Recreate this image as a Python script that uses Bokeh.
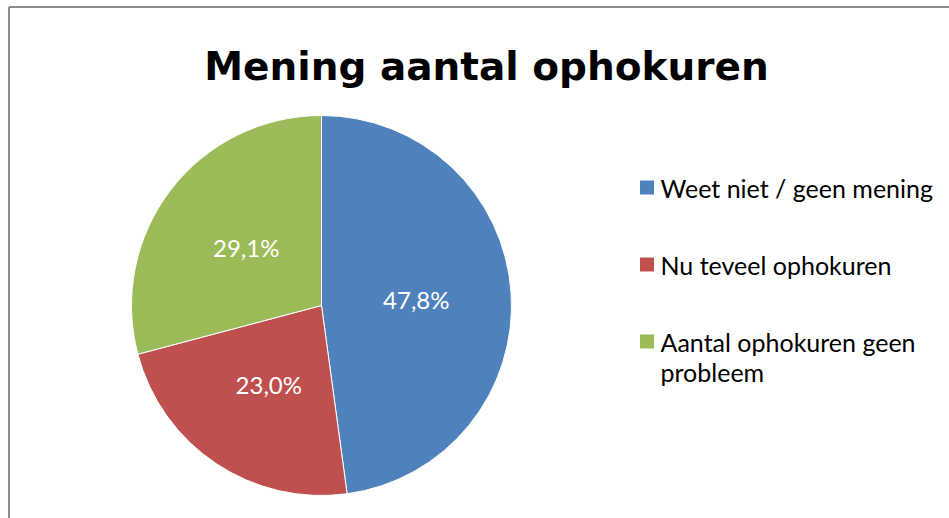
import math
import textwrap
from bokeh.plotting import figure
from bokeh.models import Range1d, ColumnDataSource
from bokeh.core.properties import value
from bokeh.embed import file_html
from bokeh.resources import INLINE

# ---- data ----
title_text = "Mening aantal ophokuren"
categories = ["Weet niet / geen mening", "Nu teveel ophokuren", "Aantal ophokuren geen probleem"]
percentages = [47.8, 23.0, 29.1]
colors = ["#4F81BD", "#C0504D", "#9BBB59"]

W, H = 949, 518
FONT = "Lato"

p = figure(width=W, height=H, output_backend="svg", toolbar_location=None,
           x_range=Range1d(0, W), y_range=Range1d(0, H), min_border=0,
           outline_line_color=None)
p.axis.visible = False
p.grid.visible = False
p.background_fill_color = "white"
p.border_fill_color = "white"

# chart border (left and top edges visible)
p.segment(x0=[8.5, 8.5], y0=[0, H - 6.5], x1=[8.5, W], y1=[H - 6.5, H - 6.5],
          line_color="#8c8c8c", line_width=2)

# ---- pie ----
cx, cy, R = 321, H - 305, 190
total = sum(percentages)
starts, ends, mids = [], [], []
cum = 0.0
for v in percentages:
    a0 = math.pi / 2 - 2 * math.pi * cum / total
    cum += v
    a1 = math.pi / 2 - 2 * math.pi * cum / total
    starts.append(a0)
    ends.append(a1)
    mids.append((a0 + a1) / 2)

src = ColumnDataSource(dict(start=starts, end=ends, color=colors, cat=categories,
                            x=[cx] * 3, y=[cy] * 3))
p.wedge(x="x", y="y", radius=R, start_angle="start", end_angle="end",
        direction="clock", fill_color="color", line_color="white", line_width=1,
        source=src)

lr = 0.5 * R
lab = ColumnDataSource(dict(
    x=[cx + lr * math.cos(m) for m in mids],
    y=[cy + lr * math.sin(m) for m in mids],
    t=[f"{v:.1f}".replace(".", ",") + "%" for v in percentages]))
p.text(x="x", y="y", text="t", source=lab, text_color="white",
       text_font=value(FONT), text_font_size="24px",
       text_align="center", text_baseline="middle")

# ---- title ----
p.text(x=[486], y=[H - 66], text=[title_text], text_font=value("DejaVu Sans"),
       text_font_style="bold", text_font_size="39px", text_color="black",
       text_align="center", text_baseline="alphabetic")

# ---- legend ----
lx, ly0, step, line_h = 646.5, H - 187, 77, 30
sq_x, sq_y, tx, ty, tt = [], [], [], [], []
for i, (c, col) in enumerate(zip(categories, colors)):
    y = ly0 - i * step
    sq_x.append(lx)
    sq_y.append(y)
    for j, line in enumerate(textwrap.wrap(c, 23)):
        tx.append(660)
        ty.append(y - j * line_h)
        tt.append(line)
p.scatter(x=sq_x, y=sq_y, marker="square", size=14, fill_color=colors, line_color=None)
p.text(x=tx, y=ty, text=tt, text_font=value(FONT), text_font_size="25px",
       text_color="black", text_align="left", text_baseline="middle")

open("out.html", "w").write(file_html(p, INLINE))
